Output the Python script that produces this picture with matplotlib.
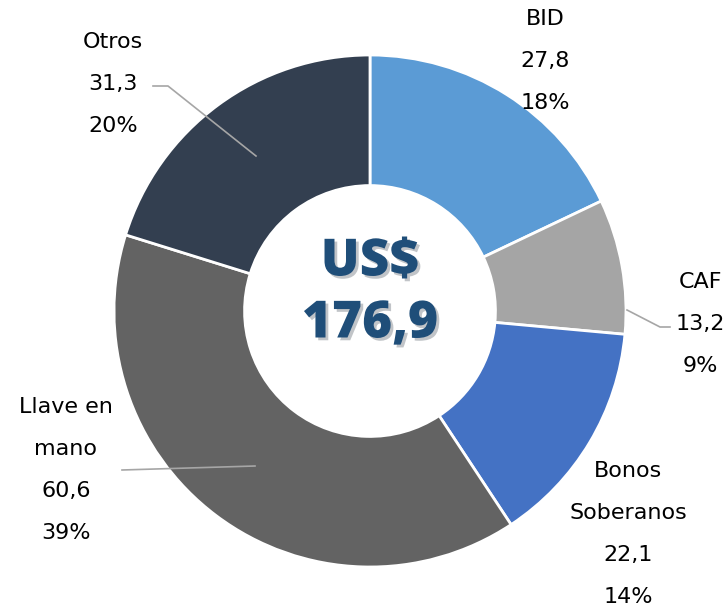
import matplotlib
matplotlib.use("Agg")
import matplotlib.pyplot as plt
import matplotlib.patheffects as pe

plt.rcParams.update({"font.family": ["DejaVu Sans"]})

# data
labels = ["BID", "CAF", "Bonos\nSoberanos", "Llave en\nmano", "Otros"]
values = [27.8, 13.2, 22.1, 60.6, 31.3]
value_txt = ["27,8", "13,2", "22,1", "60,6", "31,3"]
pct_txt = ["18%", "9%", "14%", "39%", "20%"]
colors = ["#5B9BD5", "#A5A5A5", "#4472C4", "#636363", "#333F50"]
total_txt = "US$\n176,9"

W, H = 728, 608
fig = plt.figure(figsize=(W / 100, H / 100), dpi=100)
ax = fig.add_axes([0, 0, 1, 1])

cx, cy, R = 370, 297, 256
ax.pie(values, colors=colors, startangle=90, counterclock=False,
       center=(cx, cy), radius=R, frame=True,
       wedgeprops=dict(width=R * 0.51, edgecolor="white", linewidth=2))
ax.set_xlim(0, W); ax.set_ylim(0, H)
ax.set_aspect("equal"); ax.axis("off")

# label blocks: name lines, value, share (pixel coords, y from top)
lab_pos = [(545, 19), (700, 282), (628, 471), (66, 407), (113, 42)]
step = 42
for lab, v, p, (x, y) in zip(labels, value_txt, pct_txt, lab_pos):
    lines = lab.split("\n") + [v, p]
    for i, s in enumerate(lines):
        ax.text(x, H - (y + i * step), s, ha="center", va="center",
                fontsize=16, color="black")

# leader lines
lc = "#A6A6A6"
ax.plot([153, 168, 256], [H - 86, H - 86, H - 156], color=lc, lw=1.2)
ax.plot([670, 660, 627], [H - 327, H - 327, H - 310], color=lc, lw=1.2)
ax.plot([122, 255], [H - 470, H - 466], color=lc, lw=1.2)

# centre total
shadow = [pe.SimplePatchShadow(offset=(2, -2), alpha=0.25), pe.Normal()]
for i, s in enumerate(total_txt.split("\n")):
    ax.text(cx, H - (262 + i * 62), s, ha="center", va="center",
            fontsize=37, fontweight="heavy", color="#1F4E79",
            family=["Open Sans", "DejaVu Sans"], path_effects=shadow)

fig.savefig("out.png", dpi=100)
